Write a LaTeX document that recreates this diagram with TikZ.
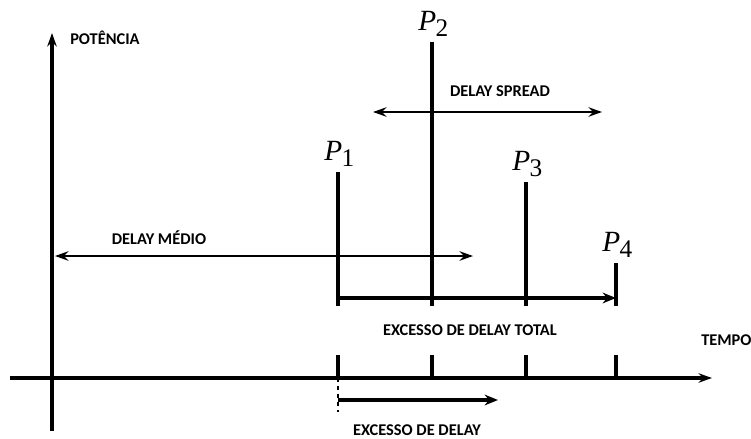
\documentclass[tikz,border=0pt]{standalone}
\usepackage{fontspec}
\setmainfont{Liberation Serif}
\newfontfamily\lblfont{Carlito}
\usetikzlibrary{arrows.meta, positioning}
\tikzset{
    axis/.style={line width=2.4pt, -{Stealth[length=10pt, width=7pt]}},
    pulse/.style={line width=2.6pt},
    tickmark/.style={line width=2.4pt},
    span/.style={line width=2.2pt, {Stealth[length=10pt, width=7pt]}-{Stealth[length=10pt, width=7pt]}},
    excess/.style={line width=2.4pt, -{Stealth[length=10pt, width=8pt]}},
    lbl/.style={font=\lblfont\bfseries\fontsize{12.3}{14}\selectfont, inner sep=0pt},
    plbl/.style={font=\fontsize{22}{24}\selectfont, inner sep=0pt},
}
\newcommand{\plab}[1]{\textit{P}\kern-0.5pt\raisebox{-4.5pt}{\fontsize{19}{20}\selectfont #1}}

\begin{document}
\begin{tikzpicture}[x=0.75pt, y=-0.75pt]
    \useasboundingbox (0,0) rectangle (751,439);

    % axes
    \coordinate (ybot) at (52,431);
    \coordinate (ytop) at (52,33);
    \coordinate (xleft) at (10,378);
    \coordinate (xright) at (712,378);
    \draw[axis] (ybot) -- (ytop);
    \draw[axis] (xleft) -- (xright);
    \node[lbl, anchor=west] (potencia) at (70,38) {POTÊNCIA};
    \node[lbl, anchor=west] (tempo) at (701,340) {TEMPO};

    % pulses, ticks and labels
    \foreach \n/\x/\h in {1/338/172, 2/432/42, 3/526/182, 4/616/263} {
        \coordinate (base\n) at (\x,306);
        \coordinate (top\n) at (\x,\h);
        \coordinate (axis\n) at (\x,378);
        \coordinate (tick\n) at (\x,355);
        \draw[pulse] (base\n) -- (top\n);
        \draw[tickmark] (axis\n) -- (tick\n);
        \node[plbl, above right=3.75pt and -10.5pt of top\n] (p\n) {\plab{\n}};
    }

    % delay spread
    \coordinate (spreadL) at (373,112);
    \coordinate (spreadR) at (602,112);
    \draw[span] (spreadL) -- (spreadR);
    \node[lbl] (spread) at (500,91) {DELAY SPREAD};

    % delay medio
    \coordinate (medioL) at (55,256);
    \coordinate (medioR) at (473,256);
    \draw[span] (medioL) -- (medioR);
    \node[lbl] (medio) at (159,238) {DELAY MÉDIO};

    % excesso de delay total
    \coordinate (total) at (338,298);
    \draw[excess] (total) -- (base4 |- total);
    \node[lbl] (totallbl) at (470,330) {EXCESSO DE DELAY TOTAL};

    % excesso de delay
    \coordinate (dashend) at (338,412);
    \coordinate (exstart) at (338,400);
    \coordinate (exend) at (498,400);
    \draw[line width=1.2pt, dashed] (axis1) -- (dashend);
    \draw[excess, line width=3pt] (exstart) -- (exend);
    \node[lbl] (exlbl) at (417,430) {EXCESSO DE DELAY};
\end{tikzpicture}
\end{document}
